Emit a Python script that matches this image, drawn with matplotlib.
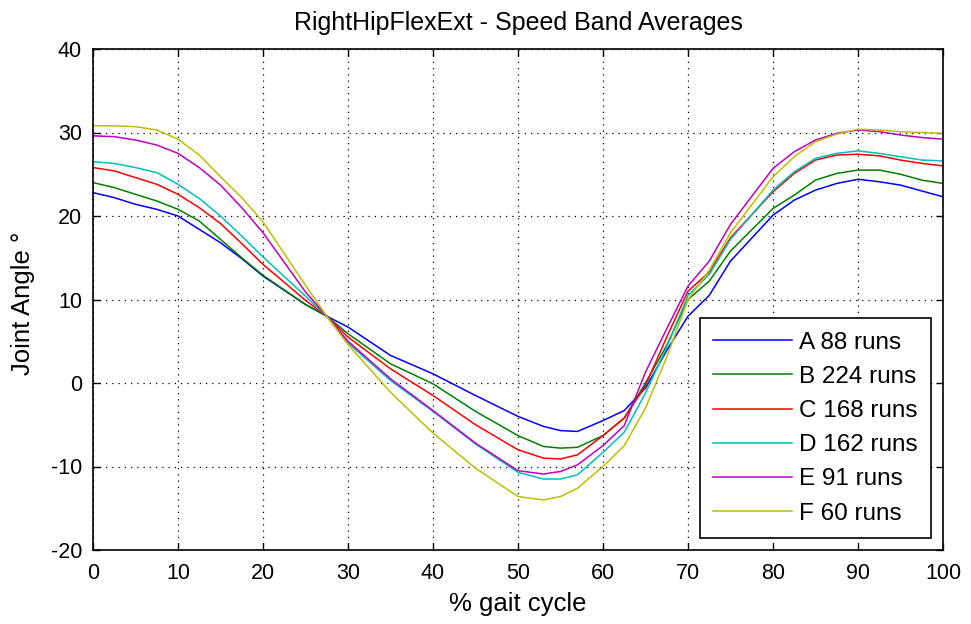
import matplotlib
matplotlib.use("Agg")
import matplotlib.pyplot as plt

plt.rcParams['font.family'] = ['Liberation Sans', 'DejaVu Sans']
plt.rcParams['axes.unicode_minus'] = False

x = [0, 2.5, 5, 7.5, 10, 12.5, 15, 17.5, 20, 25, 27.5, 30, 35, 40, 45, 50, 53, 55, 57, 60,
     62.5, 65, 67.5, 70, 72.5, 75, 80, 82.5, 85, 87.5, 90, 92.5, 95, 97.5, 100]

A = [22.8, 22.2, 21.4, 20.8, 20.0, 18.4, 16.8, 14.9, 12.8, 9.4, 8.0, 6.7, 3.3, 1.1, -1.5, -4.0, -5.2, -5.7, -5.8, -4.5,
     -3.3, -0.6, 3.9, 8.0, 10.5, 14.6, 20.1, 21.9, 23.1, 23.9, 24.4, 24.1, 23.7, 23.0, 22.3]
B = [24.0, 23.4, 22.6, 21.8, 20.8, 19.4, 17.2, 15.0, 12.9, 9.4, 8.0, 5.9, 2.3, -0.1, -3.4, -6.3, -7.6, -7.8, -7.7, -6.3,
     -4.2, 0.0, 4.5, 10.0, 12.2, 15.8, 20.9, 22.5, 24.3, 25.1, 25.5, 25.5, 25.0, 24.3, 23.9]
C = [25.8, 25.4, 24.6, 23.8, 22.6, 21.0, 19.1, 16.7, 14.2, 9.9, 8.0, 5.5, 1.7, -1.5, -5.0, -8.0, -9.0, -9.1, -8.6, -6.3,
     -4.2, -0.3, 5.5, 11.0, 13.3, 17.4, 22.9, 25.1, 26.7, 27.3, 27.4, 27.2, 26.7, 26.3, 26.0]
D = [26.5, 26.3, 25.8, 25.2, 23.8, 22.1, 20.0, 17.6, 15.1, 10.4, 8.0, 4.8, 0.3, -3.4, -7.3, -10.7, -11.5, -11.5, -11.0, -8.3,
     -5.9, -1.2, 4.3, 10.5, 13.0, 17.2, 23.1, 25.3, 26.9, 27.5, 27.8, 27.5, 27.1, 26.7, 26.6]
E = [29.6, 29.5, 29.1, 28.5, 27.5, 25.8, 23.7, 21.0, 18.0, 10.9, 8.0, 5.0, 0.5, -3.3, -7.2, -10.5, -10.9, -10.6, -9.8, -7.5,
     -5.1, 1.3, 6.5, 11.6, 14.6, 19.0, 25.7, 27.7, 29.1, 29.9, 30.3, 30.1, 29.7, 29.4, 29.2]
F = [30.8, 30.8, 30.7, 30.3, 29.2, 27.3, 24.7, 22.2, 19.3, 11.7, 8.0, 4.6, -1.1, -6.0, -10.2, -13.6, -14.0, -13.6, -12.6, -10.0,
     -7.5, -3.0, 3.1, 10.0, 13.5, 18.0, 24.7, 27.1, 28.9, 29.8, 30.4, 30.3, 30.1, 30.0, 29.9]

labels = ['A 88 runs', 'B 224 runs', 'C 168 runs', 'D 162 runs', 'E 91 runs', 'F 60 runs']
series = [A, B, C, D, E, F]
colors = ['#0000ff', '#008000', '#ff0000', '#00bfbf', '#bf00bf', '#bfbf00']

fig = plt.figure(figsize=(9.71, 6.24), dpi=100)
ax = fig.add_axes([93/971, 1-550/624, 850/971, 501/624])

for s, lab, c in zip(series, labels, colors):
    ax.plot(x, s, color=c, lw=1.1, label=lab)

ax.set_xlim(0, 100)
ax.set_ylim(-20, 40)
ax.set_xticks(range(0, 101, 10))
ax.set_yticks(range(-20, 41, 10))
ax.grid(True, color='black', linestyle=(0, (1, 4)), linewidth=0.9)
ax.tick_params(direction='in', top=True, right=True, labelsize=15.5, length=5, width=1)
ax.tick_params(axis='x', pad=9.5)
ax.tick_params(axis='y', pad=8)
for sp in ax.spines.values():
    sp.set_linewidth(1.2)

ax.set_title('RightHipFlexExt - Speed Band Averages', fontsize=18, pad=0,
             y=(550-23)/501, va='center')
ax.set_xlabel('% gait cycle', fontsize=18.5, va='center')
ax.xaxis.set_label_coords(0.5, (550-604)/501)
ax.set_ylabel('Joint Angle °', fontsize=18.5, va='center')
ax.yaxis.set_label_coords((23-93)/850, (550-303.5)/501)

leg = ax.legend(loc='lower right', bbox_to_anchor=((931-93)/850, (550-538)/501), fontsize=17.5,
                handlelength=3.25, fancybox=False, framealpha=1, edgecolor='black',
                borderpad=0.55, labelspacing=0.5, handletextpad=0.29, borderaxespad=0)
leg.get_frame().set_linewidth(1.2)

fig.savefig('out.png', dpi=100)
